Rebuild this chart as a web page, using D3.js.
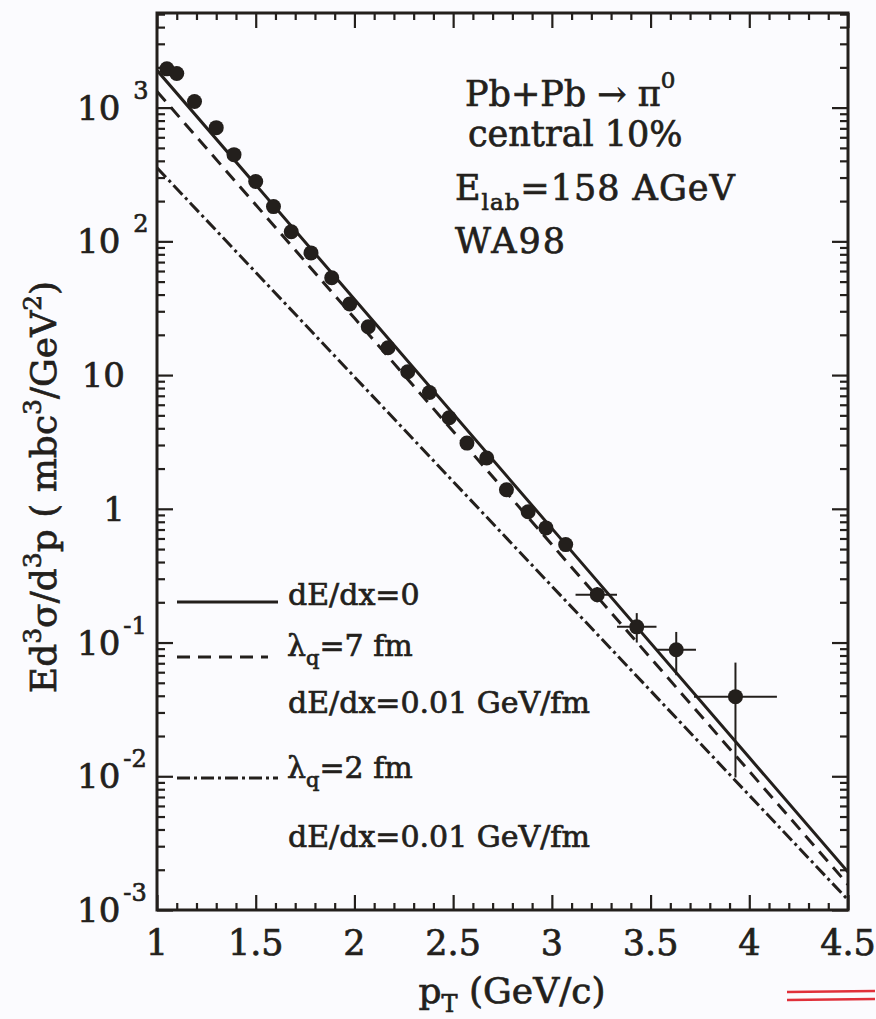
<!DOCTYPE html>
<html>
<head>
<meta charset="utf-8">
<script src="https://cdn.jsdelivr.net/npm/d3@7"></script>
<style>
html,body{margin:0;padding:0;background:#fbfbfe;}
svg{display:block;}
text{fill:#231f1c;stroke:#231f1c;stroke-width:0.7px;}
</style>
</head>
<body>
<script>
// ---- data ----
const dataPt  = [1.05, 1.10, 1.19, 1.30, 1.39, 1.50, 1.59, 1.68, 1.78, 1.885, 1.976, 2.07, 2.17, 2.27, 2.38, 2.48, 2.57, 2.67, 2.77, 2.88, 2.97, 3.07, 3.23, 3.43, 3.63, 3.93];
const dataVal = [1950, 1800, 1110, 708, 445, 280, 182, 118, 82, 53.5, 34, 23, 16, 10.6, 7.4, 4.8, 3.1, 2.4, 1.39, 0.95, 0.72, 0.54, 0.228, 0.131, 0.0883, 0.0394];

const errPt  = [3.23, 3.43, 3.63, 3.93];
const errVal = [0.228, 0.131, 0.0883, 0.0394];
const errXlo = [3.12, 3.33, 3.53, 3.72];
const errXhi = [3.33, 3.53, 3.73, 4.14];
const errYlo = [0.20, 0.10, 0.057, 0.0098];
const errYhi = [0.26, 0.166, 0.12, 0.0708];

const curvePt    = [1, 2, 3, 4, 4.5];
const solidVal   = [1900, 36.9, 0.714, 0.0138, 0.00192];
const dashedVal  = [1320, 26.7, 0.54, 0.0109, 0.00155];
const dashdotVal = [355, 9.7, 0.264, 0.0072, 0.00119];

const xTicks = [1, 1.5, 2, 2.5, 3, 3.5, 4, 4.5];
const xTickLabels = ["1", "1.5", "2", "2.5", "3", "3.5", "4", "4.5"];
const yTicks = [1e-3, 1e-2, 1e-1, 1, 10, 100, 1000];
const yTickBase = ["10", "10", "10", "1", "10", "10", "10"];
const yTickExp  = ["-3", "-2", "-1", "", "", "2", "3"];

const legendLabels = ["dE/dx=0", "7 fm", "dE/dx=0.01 GeV/fm", "2 fm", "dE/dx=0.01 GeV/fm"];

// ---- layout ----
const W = 876, H = 1019;
const L = 157, R = 848, T = 13, B = 910;
const ink = "#231f1c";
const FONT = "'DejaVu Serif', 'Liberation Serif', 'Noto Serif', serif";

const svg = d3.select("body").append("svg").attr("width", W).attr("height", H)
  .attr("font-family", FONT).style("font-family", FONT);
svg.append("rect").attr("width", W).attr("height", H).attr("fill", "#fbfbfe");

const x = d3.scaleLinear().domain([1, 4.5]).range([L, R]);
const y = d3.scaleLog().domain([1e-3, 5100]).range([B, T]);

// axes ticks (inward on all sides)
const xMinor = d3.range(10, 46).map(d => d / 10).filter(d => Math.abs(d * 2 - Math.round(d * 2)) > 1e-6);
const yMinor = y.ticks().filter(d => !yTicks.some(t => Math.abs(t - d) / t < 1e-6));

function styleAxis(g) {
  g.attr("font-family", null);
  g.select(".domain").remove();
  g.selectAll(".tick line").attr("stroke", ink).attr("stroke-width", 2.2);
  g.selectAll(".tick text").remove();
}
const gx = svg.append("g");
gx.append("g").attr("transform", `translate(0,${B})`).call(d3.axisBottom(x).tickValues(xTicks).tickSize(-15)).call(styleAxis);
gx.append("g").attr("transform", `translate(0,${B})`).call(d3.axisBottom(x).tickValues(xMinor).tickSize(-7)).call(styleAxis);
gx.append("g").attr("transform", `translate(0,${T})`).call(d3.axisTop(x).tickValues(xTicks).tickSize(-15)).call(styleAxis);
gx.append("g").attr("transform", `translate(0,${T})`).call(d3.axisTop(x).tickValues(xMinor).tickSize(-7)).call(styleAxis);
gx.append("g").attr("transform", `translate(${L},0)`).call(d3.axisLeft(y).tickValues(yTicks).tickSize(-16)).call(styleAxis);
gx.append("g").attr("transform", `translate(${L},0)`).call(d3.axisLeft(y).tickValues(yMinor).tickSize(-8)).call(styleAxis);
gx.append("g").attr("transform", `translate(${R},0)`).call(d3.axisRight(y).tickValues(yTicks).tickSize(-16)).call(styleAxis);
gx.append("g").attr("transform", `translate(${R},0)`).call(d3.axisRight(y).tickValues(yMinor).tickSize(-8)).call(styleAxis);

// frame
svg.append("rect").attr("x", L).attr("y", T).attr("width", R - L).attr("height", B - T)
  .attr("fill", "none").attr("stroke", ink).attr("stroke-width", 3);

// x tick labels
svg.append("g").selectAll("text").data(xTicks).join("text")
  .attr("x", d => x(d)).attr("y", B + 45).attr("text-anchor", "middle")
  .attr("font-size", 35).text((d, i) => xTickLabels[i]);

// y tick labels
const yl = svg.append("g").selectAll("text").data(yTicks).join("text")
  .attr("font-size", 34)
  .attr("x", (d, i) => yTickExp[i] === "" ? 125 : 77)
  .attr("text-anchor", (d, i) => yTickExp[i] === "" ? "end" : "start")
  .attr("y", d => y(d) + 12);
yl.append("tspan").text((d, i) => yTickBase[i]);
yl.append("tspan").attr("font-size", 24).attr("dx", (d, i) => yTickExp[i].startsWith("-") ? 3 : 13)
  .attr("dy", -21).text((d, i) => yTickExp[i]);

// axis titles
const xt = svg.append("text").attr("x", 512).attr("y", 1003).attr("text-anchor", "middle").attr("font-size", 36);
xt.append("tspan").text("p");
xt.append("tspan").attr("font-size", 24).attr("dy", 9).text("T");
xt.append("tspan").attr("dy", -9).text(" (GeV/c)");

const yt = svg.append("text").attr("transform", "translate(56,487) rotate(-90)").attr("text-anchor", "middle").attr("font-size", 36);
yt.append("tspan").text("Ed");
yt.append("tspan").attr("font-size", 25).attr("dy", -15).text("3");
yt.append("tspan").attr("dy", 15).text("σ/d");
yt.append("tspan").attr("font-size", 25).attr("dy", -15).text("3");
yt.append("tspan").attr("dy", 15).text("p ( mbc");
yt.append("tspan").attr("font-size", 25).attr("dy", -15).text("3");
yt.append("tspan").attr("dy", 15).text("/GeV");
yt.append("tspan").attr("font-size", 25).attr("dy", -15).text("2");
yt.append("tspan").attr("dy", 15).text(")");

// curves
const plot = svg.append("g");
plot.append("clipPath").attr("id", "clip").append("rect").attr("x", L).attr("y", T).attr("width", R - L).attr("height", B - T);
const line = d3.line().x(d => x(d[0])).y(d => y(d[1]));
const curves = [
  {vals: solidVal, dash: null},
  {vals: dashedVal, dash: "13,8"},
  {vals: dashdotVal, dash: "13,4,3,4"}
];
plot.selectAll("path.curve").data(curves).join("path").attr("class", "curve")
  .attr("clip-path", "url(#clip)")
  .attr("d", c => line(curvePt.map((p, i) => [p, c.vals[i]])))
  .attr("fill", "none").attr("stroke", ink).attr("stroke-width", 3)
  .attr("stroke-dasharray", c => c.dash);

// error bars
const eg = plot.append("g").attr("stroke", ink).attr("stroke-width", 2);
eg.selectAll("line.ex").data(errPt).join("line").attr("class", "ex")
  .attr("x1", (d, i) => x(errXlo[i])).attr("x2", (d, i) => x(errXhi[i]))
  .attr("y1", (d, i) => y(errVal[i])).attr("y2", (d, i) => y(errVal[i]));
eg.selectAll("line.ey").data(errPt).join("line").attr("class", "ey")
  .attr("x1", d => x(d)).attr("x2", d => x(d))
  .attr("y1", (d, i) => y(errYlo[i])).attr("y2", (d, i) => y(errYhi[i]));

// data points
plot.selectAll("circle").data(dataPt).join("circle")
  .attr("cx", d => x(d)).attr("cy", (d, i) => y(dataVal[i])).attr("r", 7.5).attr("fill", ink);

// legend
const lg = svg.append("g");
const legLines = [
  {y: 602, x2: 278, dash: null},
  {y: 657, x2: 268, dash: "13,8"},
  {y: 778, x2: 278, dash: "13,4,3,4"}
];
lg.selectAll("line").data(legLines).join("line")
  .attr("x1", 177).attr("x2", d => d.x2).attr("y1", d => d.y).attr("y2", d => d.y)
  .attr("stroke", ink).attr("stroke-width", 3).attr("stroke-dasharray", d => d.dash);
const LFS = 30;
lg.append("text").attr("x", 288).attr("y", 605).attr("font-size", LFS).text(legendLabels[0]);
const l7 = lg.append("text").attr("x", 287).attr("y", 656).attr("font-size", LFS);
l7.append("tspan").text("λ");
l7.append("tspan").attr("font-size", 21).attr("dy", 9).text("q");
l7.append("tspan").attr("dy", -9).text("=" + legendLabels[1]);
lg.append("text").attr("x", 288).attr("y", 713).attr("font-size", LFS).text(legendLabels[2]);
const l2 = lg.append("text").attr("x", 287).attr("y", 778).attr("font-size", LFS);
l2.append("tspan").text("λ");
l2.append("tspan").attr("font-size", 21).attr("dy", 9).text("q");
l2.append("tspan").attr("dy", -9).text("=" + legendLabels[3]);
lg.append("text").attr("x", 288).attr("y", 847).attr("font-size", LFS).text(legendLabels[4]);

// annotation
const an = svg.append("g").attr("font-size", 35);
const a1 = an.append("text").attr("x", 465).attr("y", 106);
a1.append("tspan").text("Pb+Pb → π");
a1.append("tspan").attr("font-size", 23).attr("dy", -18).text("0");
an.append("text").attr("x", 468).attr("y", 146).text("central 10%");
const a3 = an.append("text").attr("x", 455).attr("y", 200).attr("letter-spacing", 1);
a3.append("tspan").text("E");
a3.append("tspan").attr("font-size", 23).attr("dy", 10).text("lab");
a3.append("tspan").attr("dy", -10).text("=158 AGeV");
an.append("text").attr("x", 455).attr("y", 253).attr("letter-spacing", 2).text("WA98");

// scan mark at bottom right
svg.append("g").attr("stroke", "#e0303a").attr("stroke-width", 2.5)
  .selectAll("line").data([0, 1]).join("line")
  .attr("x1", 787).attr("x2", 875).attr("y1", d => 992 + d * 8).attr("y2", d => 991 + d * 8);
</script>
</body>
</html>
